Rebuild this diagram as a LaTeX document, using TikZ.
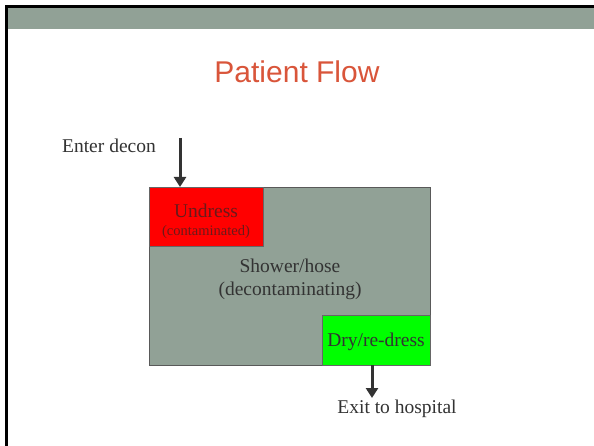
\documentclass[tikz,border=0pt]{standalone}
\usepackage{fontspec}
\setmainfont{Liberation Serif}
\newfontfamily\titlefont{Liberation Sans}
\usetikzlibrary{arrows.meta}
\definecolor{bandgray}{HTML}{91A196}
\definecolor{titlered}{HTML}{D9553A}
\definecolor{txtgray}{HTML}{333333}
\definecolor{undtxt}{HTML}{6A1A1A}
\tikzset{
  zone/.style={draw=#1, line width=0.8pt, inner sep=0pt, outer sep=0pt},
  lbl/.style={text=txtgray, font=\fontsize{19.5}{23}\selectfont, inner sep=0pt, align=center},
  flowarrow/.style={draw=txtgray, line width=3pt, -{Triangle[width=12pt,length=10pt]}}
}
\begin{document}
\begin{tikzpicture}[x=1pt,y=-1pt]
\useasboundingbox (0,0) rectangle (594,446);
\fill[white] (0,0) rectangle (594,446);
% frame and band
\fill[bandgray] (8,8) rectangle (594,29);
\fill[black] (5,5) rectangle (594,8);
\fill[black] (5,5) rectangle (8,446);
% title
\node[text=titlered, font=\titlefont\fontsize{30}{36}\selectfont, inner sep=0pt] (title) at (297,72) {Patient Flow};
% zones
\node[zone=black!65, fill=bandgray, minimum width=281pt, minimum height=178pt] (shower) at (289.5,276) {};
\node[zone=black!60, fill=red, minimum width=114pt, minimum height=59pt] (undress) at (206,216.5) {};
\node[zone=black!60, fill=green, minimum width=108pt, minimum height=50pt] (dry) at (376,340) {};
% texts
\node[lbl, text=undtxt] (undresstxt) at (206,221) {Undress\\[-5pt]{\fontsize{14.5}{16}\selectfont(contaminated)}};
\node[lbl] (showertxt) at (290,279) {Shower/hose\\(decontaminating)};
\node[lbl] (drytxt) at (376,342) {Dry/re-dress};
\node[lbl, anchor=east] (enter) at (156,146) {Enter decon};
\node[lbl] (exit) at (397,409) {Exit to hospital};
% arrows
\coordinate (in) at (180,138);
\coordinate (out) at (372,398);
\draw[flowarrow] (in) -- (undress.north -| in);
\draw[flowarrow] (dry.south -| out) -- (out);
\end{tikzpicture}
\end{document}
